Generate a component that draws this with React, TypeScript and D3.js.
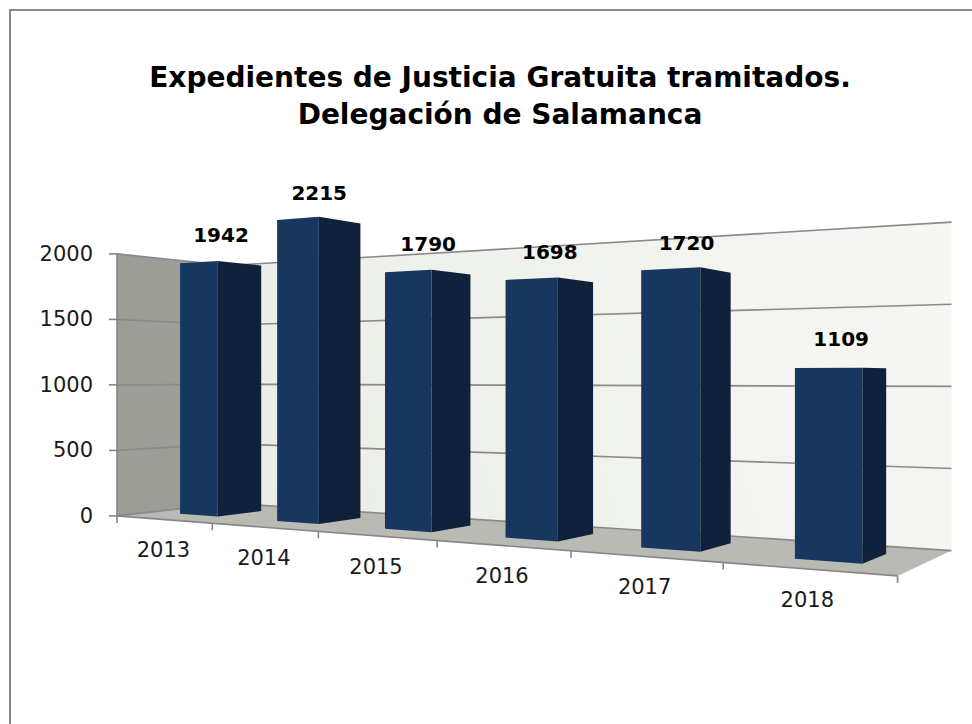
import React from "react";
import * as d3 from "d3";

const categories = ["2013", "2014", "2015", "2016", "2017", "2018"];
const values = [1942, 2215, 1790, 1698, 1720, 1109];
const valueTicks = [0, 500, 1000, 1500, 2000];
const titleLines = ["Expedientes de Justicia Gratuita tramitados.", "Delegación de Salamanca"];

const W = 972;
const H = 724;
const FONT = "'DejaVu Sans', Verdana, sans-serif";

// perspective camera (world: X 0..1 along categories, Z 0..1 depth, h height)
const cam = { a0: 117, a1: 507, a3: 135, c1: -0.3048, c3: 0.1025, horizon: 379, eyeValue: 1045 };
const barDepth = { front: 0.3, back: 0.7 };

const xBand = d3.scaleBand<string>().domain(categories).range([0, 1]).paddingInner(0.6).paddingOuter(0.3);
const xCat = d3.scaleBand<string>().domain(categories).range([0, 1]).padding(0);
const hScale = d3.scaleLinear().domain([0, 2000]).range([0, 262]);

function project(X: number, v: number, Z: number): [number, number] {
  const w = 1 + cam.c1 * X + cam.c3 * Z;
  const x = (cam.a0 + cam.a1 * X + cam.a3 * Z) / w;
  const y = cam.horizon + (hScale(cam.eyeValue) - hScale(v)) / w;
  return [x, y];
}

const poly = (pts: [number, number][]) => pts.map((p) => `${p[0].toFixed(2)},${p[1].toFixed(2)}`).join(" ");

export default function App() {
  const vMax = valueTicks[valueTicks.length - 1];
  const leftWall = poly([project(0, 0, 0), project(0, 0, 1), project(0, vMax, 1), project(0, vMax, 0)]);
  const backWall = poly([project(0, 0, 1), project(1, 0, 1), project(1, vMax, 1), project(0, vMax, 1)]);
  const floor = poly([project(0, 0, 0), project(1, 0, 0), project(1, 0, 1), project(0, 0, 1)]);
  const bl = project(0, 0, 1);
  const br = project(1, 0, 1);

  const tickBoundaries = d3.range(categories.length + 1).map((i) => i / categories.length);

  return (
    <svg
      width={W}
      height={H}
      style={{ position: "fixed", left: 0, top: 0, background: "#fff" }}
      xmlns="http://www.w3.org/2000/svg"
    >
      <defs>
        <linearGradient id="backGrad" gradientUnits="userSpaceOnUse" x1={bl[0]} y1={bl[1]} x2={br[0]} y2={br[1] - 300}>
          <stop offset="0" stopColor="#eaede6" />
          <stop offset="1" stopColor="#f6f7f3" />
        </linearGradient>
      </defs>
      <rect x={0} y={0} width={W} height={H} fill="#fff" />
      <rect x={10} y={10} width={1000} height={800} fill="#fff" stroke="#878787" strokeWidth={2} />

      {/* title */}
      <g fontFamily={FONT} fontWeight="bold" fontSize={28} fill="#000" textAnchor="middle">
        {titleLines.map((t, i) => (
          <text key={i} x={500} y={87 + i * 37}>
            {t}
          </text>
        ))}
      </g>

      {/* walls and floor */}
      <polygon points={backWall} fill="url(#backGrad)" />
      <polygon points={leftWall} fill="#9b9d96" />
      <polygon points={floor} fill="#b8bab3" />

      {/* gridlines */}
      <g stroke="#8a8a8a" strokeWidth={1.6} fill="none">
        {valueTicks.map((v) => {
          const p0 = project(0, v, 0);
          const p1 = project(0, v, 1);
          const p2 = project(1, v, 1);
          return <polyline key={v} points={poly([p0, p1, p2])} />;
        })}
      </g>

      {/* value axis */}
      <g stroke="#868686" strokeWidth={1.6}>
        <line x1={project(0, 0, 0)[0]} y1={project(0, 0, 0)[1]} x2={project(0, vMax, 0)[0]} y2={project(0, vMax, 0)[1]} />
        {valueTicks.map((v) => {
          const p = project(0, v, 0);
          return <line key={v} x1={p[0] - 8} y1={p[1]} x2={p[0]} y2={p[1]} />;
        })}
      </g>
      <g fontFamily={FONT} fontSize={21} fill="#1a1a1a" textAnchor="end">
        {valueTicks.map((v) => {
          const p = project(0, v, 0);
          return (
            <text key={v} x={p[0] - 24} y={p[1] + 7}>
              {v}
            </text>
          );
        })}
      </g>

      {/* category axis */}
      <g stroke="#868686" strokeWidth={1.6}>
        <line x1={project(0, 0, 0)[0]} y1={project(0, 0, 0)[1]} x2={project(1, 0, 0)[0]} y2={project(1, 0, 0)[1]} />
        {tickBoundaries.map((X, i) => {
          const p = project(X, 0, 0);
          return <line key={i} x1={p[0]} y1={p[1]} x2={p[0]} y2={p[1] + 7} />;
        })}
      </g>
      <g fontFamily={FONT} fontSize={21} fill="#1a1a1a" textAnchor="middle">
        {categories.map((c) => {
          const X = (xCat(c) as number) + xCat.bandwidth() / 2;
          const p = project(X, 0, 0);
          return (
            <text key={c} x={p[0]} y={p[1] + 38}>
              {c}
            </text>
          );
        })}
      </g>

      {/* bars */}
      {categories.map((c, i) => {
        const v = values[i];
        const xl = xBand(c) as number;
        const xr = xl + xBand.bandwidth();
        const z0 = barDepth.front;
        const z1 = barDepth.back;
        const front = poly([project(xl, 0, z0), project(xr, 0, z0), project(xr, v, z0), project(xl, v, z0)]);
        const side = poly([project(xr, 0, z0), project(xr, 0, z1), project(xr, v, z1), project(xr, v, z0)]);
        const top = poly([project(xl, v, z0), project(xr, v, z0), project(xr, v, z1), project(xl, v, z1)]);
        return (
          <g key={c}>
            <polygon points={side} fill="#10223b" />
            <polygon points={front} fill="#17375e" />
            {v < cam.eyeValue && <polygon points={top} fill="#1f4575" />}
          </g>
        );
      })}

      {/* data labels */}
      <g fontFamily={FONT} fontWeight="bold" fontSize={20} fill="#000" textAnchor="middle">
        {categories.map((c, i) => {
          const X = (xBand(c) as number) + xBand.bandwidth() / 2;
          const p = project(X, values[i], (barDepth.front + barDepth.back) / 2);
          return (
            <text key={c} x={p[0]} y={p[1] - 22}>
              {values[i]}
            </text>
          );
        })}
      </g>
    </svg>
  );
}
